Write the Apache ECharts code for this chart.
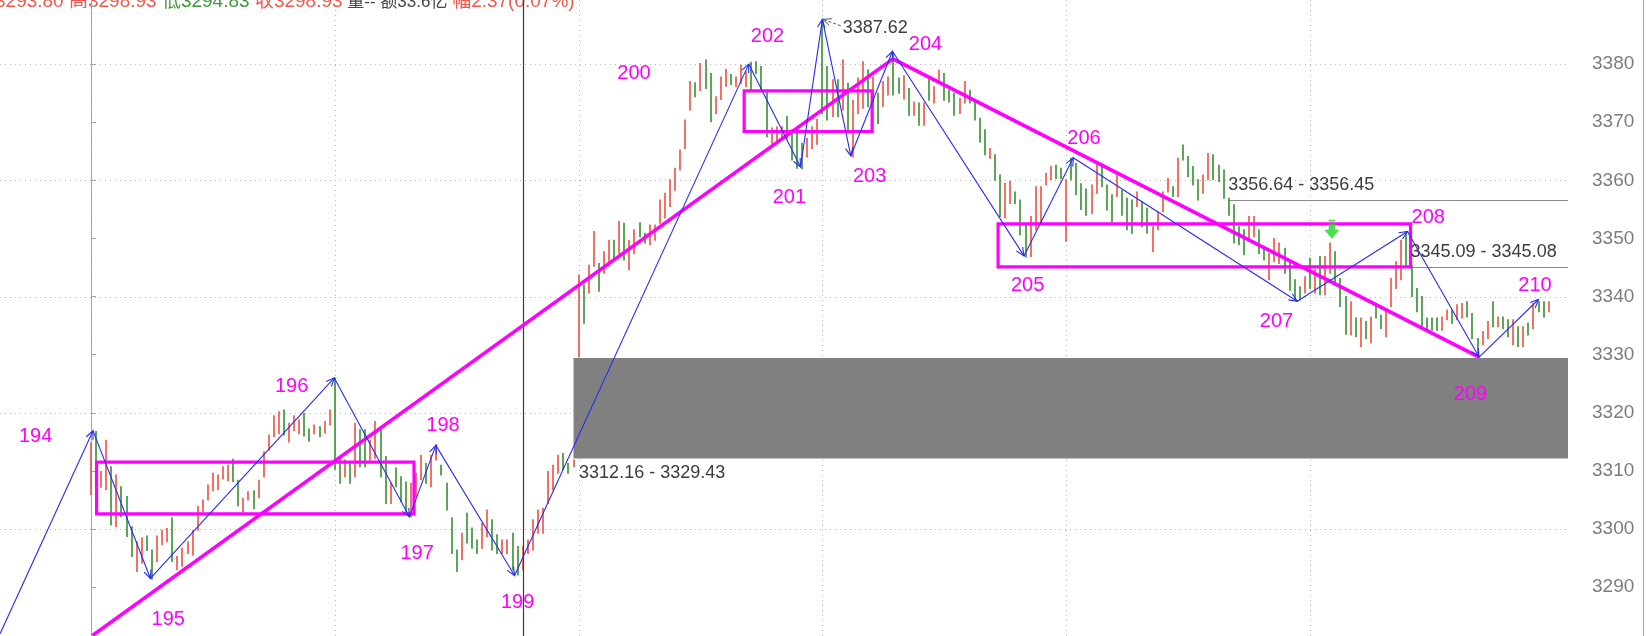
<!DOCTYPE html>
<html><head><meta charset="utf-8">
<script src="https://cdn.jsdelivr.net/npm/echarts@6/dist/echarts.min.js"></script>
<style>html,body{margin:0;padding:0;background:#fff;overflow:hidden}#c{width:1647px;height:636px}</style>
</head><body><div id="c"></div>
<script>
// ---- 5-minute bars (index 0..287), high / low / up(1=red,0=green) ----
const barHigh=[
3314.8,3316.8,3309.9,3315.3,3310.7,3309.3,3307.3,3305.6,3300.4,3297.8,
3298.5,3298.8,3296.4,3298.8,3299.8,3300.1,3301.9,3295.3,3296.7,3297.8,
3299.8,3303.9,3305.0,3307.6,3309.6,3309.3,3310.7,3311.0,3312.0,3308.4,
3305.3,3306.4,3306.6,3308.4,3313.3,3316.2,3319.5,3320.2,3320.5,3318.2,
3319.5,3318.8,3319.9,3317.2,3317.9,3317.6,3318.5,3320.5,3326.0,3312.5,
3311.9,3311.3,3318.2,3317.1,3317.1,3315.3,3318.5,3317.1,3312.5,3307.9,
3310.5,3309.0,3308.1,3307.9,3309.6,3312.7,3311.3,3312.7,3314.5,3311.0,
3307.9,3301.9,3296.4,3299.3,3302.7,3300.2,3298.1,3301.0,3303.3,3301.6,
3299.0,3298.1,3298.1,3299.3,3297.0,3297.0,3298.1,3301.6,3303.3,3303.6,
3309.9,3311.0,3312.7,3313.0,3311.3,3311.9,3343.7,3342.0,3345.4,3351.2,
3345.7,3347.7,3349.7,3349.7,3352.9,3352.6,3349.7,3351.5,3352.7,3350.9,
3352.3,3352.3,3356.6,3357.8,3360.1,3362.1,3365.2,3370.4,3377.0,3376.8,
3380.1,3380.7,3378.4,3374.4,3377.8,3379.1,3378.2,3377.8,3379.8,3378.7,
3380.3,3380.4,3379.6,3375.5,3369.0,3369.2,3369.2,3371.0,3368.7,3368.1,
3366.4,3367.2,3369.2,3370.5,3387.6,3379.6,3377.3,3377.3,3380.7,3376.7,
3373.8,3377.6,3380.4,3379.0,3377.8,3375.0,3377.0,3377.8,3382.0,3377.6,
3378.0,3375.8,3373.5,3373.3,3373.3,3377.8,3376.1,3379.0,3378.4,3375.5,
3375.0,3374.1,3377.0,3375.5,3373.5,3370.7,3368.7,3365.5,3364.4,3360.9,
3359.5,3359.8,3358.0,3356.6,3352.3,3353.8,3358.9,3358.9,3361.2,3362.4,
3362.6,3362.1,3360.1,3363.8,3362.9,3359.4,3358.5,3359.2,3362.9,3362.9,
3359.2,3357.5,3360.9,3358.3,3356.9,3356.6,3358.0,3356.3,3355.2,3352.0,
3354.6,3358.0,3360.3,3358.9,3363.8,3366.1,3364.1,3362.4,3360.1,3360.9,
3364.6,3364.4,3362.6,3361.8,3356.9,3355.8,3352.0,3351.5,3353.8,3353.8,
3351.5,3348.6,3347.4,3350.0,3349.2,3348.3,3346.0,3342.9,3341.7,3343.4,
3346.6,3344.6,3346.9,3346.9,3349.2,3347.7,3343.1,3340.0,3339.1,3336.3,
3336.3,3335.7,3336.5,3338.6,3336.8,3337.7,3343.1,3346.0,3349.7,3351.1,
3345.4,3341.4,3340.0,3336.3,3336.3,3336.3,3336.5,3337.7,3337.7,3338.6,
3338.8,3339.1,3337.1,3332.8,3334.0,3335.7,3339.1,3336.5,3336.5,3336.0,
3336.0,3334.8,3334.8,3335.4,3338.8,3339.1,3339.1,3339.1];
const barLow=[
3305.9,3308.3,3307.2,3306.8,3300.7,3300.4,3302.1,3298.7,3295.3,3292.7,
3294.1,3296.3,3291.4,3294.4,3297.3,3297.8,3294.4,3293.0,3293.6,3295.8,
3295.5,3299.8,3303.0,3305.0,3306.6,3306.8,3308.6,3308.3,3308.2,3304.0,
3303.0,3305.0,3303.5,3305.4,3309.0,3313.6,3315.9,3316.4,3316.2,3315.0,
3316.9,3316.4,3316.0,3315.1,3316.4,3315.9,3316.5,3317.9,3310.3,3307.9,
3309.0,3307.9,3309.0,3310.7,3310.7,3311.9,3312.2,3309.0,3304.4,3304.4,
3307.3,3304.7,3302.7,3302.1,3305.6,3308.5,3307.9,3307.3,3311.9,3309.3,
3303.3,3295.8,3292.7,3294.7,3297.6,3296.7,3295.8,3296.7,3298.7,3296.4,
3295.8,3295.8,3295.8,3293.0,3292.1,3293.0,3295.8,3296.4,3299.3,3299.3,
3304.4,3306.7,3309.6,3310.2,3309.6,3310.7,3329.6,3335.4,3340.6,3345.2,
3340.9,3344.0,3345.2,3346.3,3347.4,3346.3,3344.6,3347.4,3350.3,3349.2,
3348.9,3349.7,3352.6,3353.5,3355.5,3358.3,3361.8,3365.5,3372.1,3374.4,
3375.4,3375.8,3370.1,3371.5,3373.9,3376.2,3376.5,3376.1,3376.7,3376.1,
3375.5,3378.4,3375.5,3367.5,3366.4,3366.9,3367.2,3367.2,3363.5,3362.1,
3362.0,3364.0,3365.5,3366.2,3371.5,3370.4,3371.0,3371.0,3372.1,3368.1,
3364.0,3371.5,3372.4,3372.7,3372.7,3369.8,3372.7,3374.7,3374.7,3375.0,
3374.0,3371.2,3371.2,3369.5,3369.5,3373.8,3373.3,3376.7,3373.8,3373.5,
3371.2,3371.5,3373.3,3373.3,3370.4,3366.6,3364.4,3363.8,3360.0,3353.8,
3353.5,3356.0,3356.0,3350.6,3346.8,3346.9,3351.5,3352.6,3359.2,3360.1,
3360.3,3360.3,3349.5,3360.1,3357.5,3355.0,3354.0,3354.3,3357.8,3358.9,
3354.9,3352.9,3357.2,3354.0,3351.5,3350.9,3355.5,3352.0,3350.9,3347.7,
3351.5,3354.6,3358.0,3357.2,3357.2,3363.5,3360.6,3359.2,3356.6,3357.8,
3360.1,3360.1,3359.8,3356.9,3354.0,3349.2,3348.9,3347.2,3350.0,3350.3,
3347.4,3346.3,3342.9,3346.0,3345.7,3344.0,3341.1,3339.4,3339.4,3340.6,
3341.4,3340.6,3340.3,3340.3,3344.0,3342.0,3338.3,3333.5,3333.4,3333.1,
3331.4,3332.8,3332.0,3336.3,3334.5,3333.1,3338.3,3341.4,3342.9,3345.4,
3340.0,3337.4,3334.8,3334.0,3334.2,3334.2,3334.2,3336.0,3335.4,3336.0,
3336.3,3336.5,3332.8,3329.7,3331.7,3332.8,3334.8,3334.8,3334.5,3333.1,
3331.7,3331.4,3331.4,3333.4,3334.5,3337.4,3336.5,3337.4];
const barUp=[
1,0,1,1,0,1,0,0,0,1, 1,0,0,1,1,1,0,1,1,1, 1,1,1,1,1,1,1,1,0,0, 1,1,0,1,1,1,1,1,0,1,
1,1,0,0,1,0,1,1,0,0, 1,0,1,0,0,1,1,0,0,1, 0,0,0,1,1,1,0,1,1,0, 0,0,0,1,0,0,0,1,1,0,
0,1,1,0,0,1,1,1,1,1, 1,1,1,0,0,1,1,0,1,1, 0,1,1,0,1,0,1,1,0,0, 1,1,1,1,1,1,1,1,1,0,
1,0,0,1,1,1,0,1,1,1, 0,0,0,0,1,1,1,0,0,0, 0,1,1,1,0,0,1,0,1,0, 1,1,1,0,1,0,1,1,0,0,
1,0,1,0,1,0,1,1,0,0, 0,1,1,0,0,0,0,1,0,0, 1,1,0,0,0,1,1,1,1,1, 0,0,1,0,0,0,0,1,1,0,
0,0,1,0,0,0,1,0,0,1, 1,1,1,0,1,0,0,0,0,1, 1,0,0,0,0,0,0,0,1,1, 0,0,1,1,1,0,0,0,0,1,
0,1,0,1,1,0,0,0,1,0, 1,0,1,0,0,1,1,1,1,0, 0,0,0,0,0,0,1,1,0,1, 1,0,0,0,1,1,0,1,0,0,
1,0,1,0,1,0,0,1];
const dayStarts=[0,48,96,144,192,240];
// ---- price axis ----
const yMin=3281.6, yMax=3391.03, yStep=10, yLabelMin=3290, yLabelMax=3380;
const gridLevels=[3300,3320,3340,3360,3380];
// ---- zigzag pivots [barIndex, price] ----
const pivots=[[-17.9,3282.0],[0.4,3316.9],[11.7,3291.5],[47.9,3326.0],[62.7,3302.1],[67.9,3314.4],[83.4,3292.0],
 [129.5,3380.0],[139.7,3362.3],[144.0,3387.7],[149.6,3364.2],[157.8,3382.2],[183.7,3347.0],[193.4,3363.9],
 [237.5,3339.2],[259.2,3351.2],[273.3,3329.6],[285.0,3339.5]];
const waveLabels=[['194',-10.9,3316.0],['195',15.2,3284.4],['196',39.5,3324.5],['197',64.2,3295.8],['198',69.3,3317.8],
 ['199',84.0,3287.3],['200',106.9,3378.4],['201',137.5,3357.0],['202',133.2,3384.7],['203',153.3,3360.7],
 ['204',164.3,3383.4],['205',184.4,3341.9],['206',195.5,3367.2],['207',233.4,3335.7],['208',263.3,3353.6],
 ['209',271.6,3323.2],['210',284.3,3341.9]];
const trendLines=[[0.3,3281.7,157.9,3380.9],[157.9,3380.9,273.3,3329.6]];
const boxes=[[1.1,3302.6,63.6,3311.5],[128.6,3368.4,153.8,3375.4],[178.6,3345.1,259.8,3352.5]];
const gapZone=[95.0,3312.16,3329.43];
const levels=[[223.9,3356.64],[259.8,3345.09]];
const notes=[['3387.62',148.0,3386.2],['3312.16 - 3329.43',96.1,3309.7],['3356.64 - 3356.45',223.9,3359.2],['3345.09 - 3345.08',259.8,3347.7]];
const peakPointer=[[147.6,3386.6,144.1,3387.7]];
const signals=[[244.3,3351.6]];
const crosshairIdx=85;
const header=[['开3293.80 高3298.93 ','r'],['低3294.83 ','g'],['收3298.93','r'],[' 量-- 额33.6亿 ','k'],['幅2.37(0.07%)','r']];

// ---- styles ----
const RED='#f2584a', GREEN='#3f973a', BLUE='#2a2af5', MAG='#ff00ff', GRID='#b4b4b4';
const FONT='"Liberation Sans","Noto Sans CJK SC",sans-serif';
const X0=-91/5.079, X1=X0+1568/5.079;

function seg(api,color,w,dash,arrow){
  const a=api.coord([api.value(0),api.value(1)]), b=api.coord([api.value(2),api.value(3)]);
  const ch=[{type:'line',shape:{x1:a[0],y1:a[1],x2:b[0],y2:b[1]},style:{stroke:color,lineWidth:w,lineDash:dash||null}}];
  if(arrow){
    const ang=Math.atan2(a[1]-b[1],a[0]-b[0]),L=9,d=0.42;
    ch.push({type:'polyline',shape:{points:[[b[0]+L*Math.cos(ang+d),b[1]+L*Math.sin(ang+d)],[b[0],b[1]],[b[0]+L*Math.cos(ang-d),b[1]+L*Math.sin(ang-d)]]},style:{stroke:color,fill:null,lineWidth:w}});
  }
  return {type:'group',children:ch};
}
const zz=[]; for(let k=1;k<pivots.length;k++) zz.push([pivots[k-1][0],pivots[k-1][1],pivots[k][0],pivots[k][1]]);

const chart=echarts.init(document.getElementById('c'),null,{renderer:'canvas'});
chart.setOption({
  animation:false, backgroundColor:'#ffffff',
  grid:{show:false,left:0,right:79,top:0,bottom:0,containLabel:false,outerBoundsMode:'none'},
  xAxis:{type:'value',min:X0,max:X1,show:false,splitLine:{show:false},minorSplitLine:{show:false}},
  yAxis:{type:'value',position:'right',min:yMin,max:yMax,minInterval:yStep,maxInterval:yStep,
    axisLine:{show:true,lineStyle:{color:'#a0a0a0',width:1}},
    axisTick:{show:true,length:5,lineStyle:{color:'#a0a0a0'}},
    axisLabel:{margin:24,color:'#7c7c7c',fontSize:19,fontFamily:FONT,showMinLabel:false,showMaxLabel:false,
      formatter:v=>(v>=yLabelMin&&v<=yLabelMax)?String(v):''},
    splitLine:{show:false,lineStyle:{opacity:0}},minorSplitLine:{show:false},splitArea:{show:false}},
  series:[
    {type:'custom',z:1,silent:true,data:gridLevels.map(v=>[0,v]),
     renderItem:(p,api)=>{const y=Math.round(api.coord([0,api.value(1)])[1])+0.5;const cs=p.coordSys;
       return {type:'line',shape:{x1:cs.x,y1:y,x2:cs.x+cs.width,y2:y},style:{stroke:GRID,lineWidth:1,lineDash:[1,4]}};}},
    {type:'custom',z:1,silent:true,data:dayStarts.map(d=>[d,yMin]),
     renderItem:(p,api)=>{const x=Math.round(api.coord([api.value(0),yMin])[0])+0.5;const cs=p.coordSys;
       return {type:'line',shape:{x1:x,y1:cs.y,x2:x,y2:cs.y+cs.height},style:{stroke:GRID,lineWidth:1,lineDash:[1,4]}};}},
    {type:'custom',z:2,silent:true,data:[gapZone],
     renderItem:(p,api)=>{const a=api.coord([api.value(0),api.value(2)]),b=api.coord([api.value(0),api.value(1)]);const cs=p.coordSys;
       return {type:'rect',shape:{x:a[0],y:a[1],width:cs.x+cs.width-a[0],height:b[1]-a[1]},style:{fill:'#808080'}};}},
    {type:'custom',z:3,silent:true,data:levels,
     renderItem:(p,api)=>{const a=api.coord([api.value(0),api.value(1)]);const cs=p.coordSys;const y=Math.round(a[1])+0.5;
       return {type:'line',shape:{x1:a[0],y1:y,x2:cs.x+cs.width,y2:y},style:{stroke:'#8a8a8a',lineWidth:1.2}};}},
    {type:'custom',z:4,silent:true,data:barHigh.map((h,i)=>[i,barLow[i],h,barUp[i]]),
     renderItem:(p,api)=>{const a=api.coord([api.value(0),api.value(1)]),b=api.coord([api.value(0),api.value(2)]);const x=Math.round(a[0]);
       return {type:'line',shape:{x1:x,y1:a[1]+0.5,x2:x,y2:b[1]-0.5},style:{stroke:api.value(3)?RED:GREEN,lineWidth:1.7}};}},
    {type:'custom',z:5,silent:true,data:[[crosshairIdx,yMin]],
     renderItem:(p,api)=>{const x=Math.round(api.coord([api.value(0),yMin])[0])+0.5;const cs=p.coordSys;
       return {type:'line',shape:{x1:x,y1:cs.y,x2:x,y2:cs.y+cs.height},style:{stroke:'#3a3a3a',lineWidth:1.2}};}},
    {type:'custom',z:6,silent:true,data:boxes,
     renderItem:(p,api)=>{const a=api.coord([api.value(0),api.value(3)]),b=api.coord([api.value(2),api.value(1)]);
       return {type:'rect',shape:{x:a[0],y:a[1],width:b[0]-a[0],height:b[1]-a[1]},style:{fill:null,stroke:MAG,lineWidth:3.2}};}},
    {type:'custom',z:7,silent:true,data:trendLines,renderItem:(p,api)=>seg(api,MAG,3.6,null,false)},
    {type:'custom',z:8,silent:true,data:zz,renderItem:(p,api)=>seg(api,BLUE,1.1,null,true)},
    {type:'custom',z:8,silent:true,data:peakPointer,renderItem:(p,api)=>seg(api,'#555',1,[3,2],true)},
    {type:'scatter',z:9,silent:true,data:signals,symbol:'path://M4,0 L10,0 L10,1.5 L4,1.5 Z M4,3 L10,3 L10,8 L14,8 L7,15 L0,8 L4,8 Z',
     symbolSize:[15,19],itemStyle:{color:'#1ed81e'}},
    {type:'custom',z:10,silent:true,data:waveLabels.map(l=>[l[1],l[2]]),
     renderItem:(p,api)=>{const a=api.coord([api.value(0),api.value(1)]);
       return {type:'text',x:a[0],y:a[1],style:{text:waveLabels[p.dataIndex][0],fill:MAG,font:'20px '+FONT,align:'center',verticalAlign:'middle',textAlign:'center',textVerticalAlign:'middle'}};}},
    {type:'custom',z:10,silent:true,data:notes.map(l=>[l[1],l[2]]),
     renderItem:(p,api)=>{const a=api.coord([api.value(0),api.value(1)]);
       return {type:'text',x:a[0],y:a[1],style:{text:notes[p.dataIndex][0],fill:'#3c3c3c',font:'18px '+FONT,align:'left',verticalAlign:'middle',textAlign:'left',textVerticalAlign:'middle'}};}}
  ],
  graphic:[
    {type:'line',silent:true,shape:{x1:1643.5,y1:0,x2:1643.5,y2:636},style:{stroke:'#a0a0a0',lineWidth:1}},
    {type:'text',silent:true,x:-24,y:2,style:{
      text:header.map(h=>'{'+h[1]+'|'+h[0]+'}').join(''),font:'19px '+FONT,verticalAlign:'middle',textVerticalAlign:'middle',
      rich:{r:{fill:'#f2584a',color:'#f2584a',font:'19px '+FONT},g:{fill:'#3f973a',color:'#3f973a',font:'19px '+FONT},k:{fill:'#444',color:'#444',font:'17px '+FONT}}}}
  ]
});
</script></body></html>
